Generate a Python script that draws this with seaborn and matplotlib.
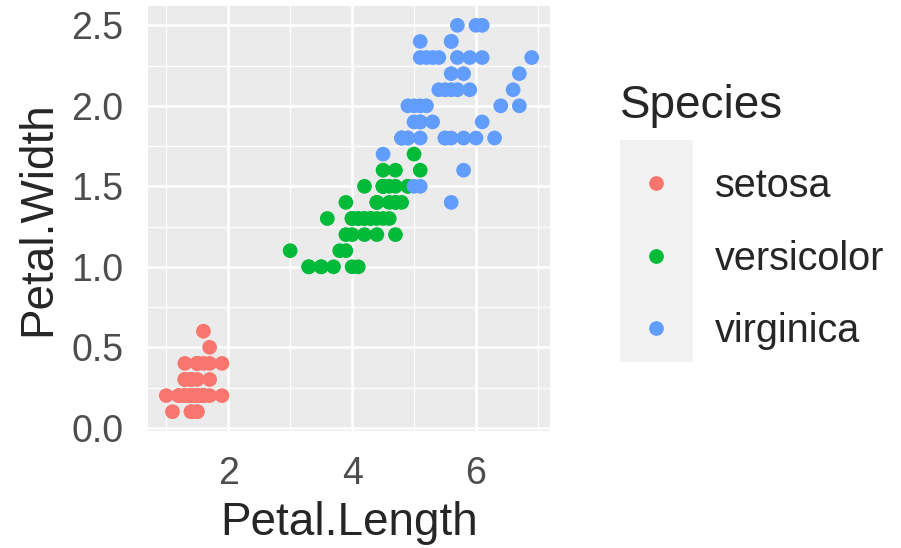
import matplotlib
matplotlib.use("Agg")
from matplotlib import pyplot as plt
from matplotlib.patches import Rectangle
from matplotlib.ticker import MultipleLocator, FormatStrFormatter
import pandas as pd
import seaborn as sns

# iris petal measurements, one list per species
species_names = ["setosa", "versicolor", "virginica"]

setosa_length = [1.4, 1.4, 1.3, 1.5, 1.4, 1.7, 1.4, 1.5, 1.4, 1.5, 1.5, 1.6, 1.4, 1.1, 1.2, 1.5, 1.3,
                 1.4, 1.7, 1.5, 1.7, 1.5, 1.0, 1.7, 1.9, 1.6, 1.6, 1.5, 1.4, 1.6, 1.6, 1.5, 1.5, 1.4,
                 1.5, 1.2, 1.3, 1.4, 1.3, 1.5, 1.3, 1.3, 1.3, 1.6, 1.9, 1.4, 1.6, 1.4, 1.5, 1.4]
setosa_width = [0.2, 0.2, 0.2, 0.2, 0.2, 0.4, 0.3, 0.2, 0.2, 0.1, 0.2, 0.2, 0.1, 0.1, 0.2, 0.4, 0.4,
                0.3, 0.3, 0.3, 0.2, 0.4, 0.2, 0.5, 0.2, 0.2, 0.4, 0.2, 0.2, 0.2, 0.2, 0.4, 0.1, 0.2,
                0.2, 0.2, 0.2, 0.1, 0.2, 0.2, 0.3, 0.3, 0.2, 0.6, 0.4, 0.3, 0.2, 0.2, 0.2, 0.2]

versicolor_length = [4.7, 4.5, 4.9, 4.0, 4.6, 4.5, 4.7, 3.3, 4.6, 3.9, 3.5, 4.2, 4.0, 4.7, 3.6, 4.4, 4.5,
                     4.1, 4.5, 3.9, 4.8, 4.0, 4.9, 4.7, 4.3, 4.4, 4.8, 5.0, 4.5, 3.5, 3.8, 3.7, 3.9, 5.1,
                     4.5, 4.5, 4.7, 4.4, 4.1, 4.0, 4.4, 4.6, 4.0, 3.3, 4.2, 4.2, 4.2, 4.3, 3.0, 4.1]
versicolor_width = [1.4, 1.5, 1.5, 1.3, 1.5, 1.3, 1.6, 1.0, 1.3, 1.4, 1.0, 1.5, 1.0, 1.4, 1.3, 1.4, 1.5,
                    1.0, 1.5, 1.1, 1.8, 1.3, 1.5, 1.2, 1.3, 1.4, 1.4, 1.7, 1.5, 1.0, 1.1, 1.0, 1.2, 1.6,
                    1.5, 1.6, 1.5, 1.3, 1.3, 1.3, 1.2, 1.4, 1.2, 1.0, 1.3, 1.2, 1.3, 1.3, 1.1, 1.3]

virginica_length = [6.0, 5.1, 5.9, 5.6, 5.8, 6.6, 4.5, 6.3, 5.8, 6.1, 5.1, 5.3, 5.5, 5.0, 5.1, 5.3, 5.5,
                    6.7, 6.9, 5.0, 5.7, 4.9, 6.7, 4.9, 5.7, 6.0, 4.8, 4.9, 5.6, 5.8, 6.1, 6.4, 5.6, 5.1,
                    5.6, 6.1, 5.6, 5.5, 4.8, 5.4, 5.6, 5.1, 5.1, 5.9, 5.7, 5.2, 5.0, 5.2, 5.4, 5.1]
virginica_width = [2.5, 1.9, 2.1, 1.8, 2.2, 2.1, 1.7, 1.8, 1.8, 2.5, 2.0, 1.9, 2.1, 2.0, 2.4, 2.3, 1.8,
                   2.2, 2.3, 1.5, 2.3, 2.0, 2.0, 1.8, 2.1, 1.8, 1.8, 1.8, 2.1, 1.6, 1.9, 2.0, 2.2, 1.5,
                   1.4, 2.3, 2.4, 1.8, 1.8, 2.1, 2.4, 2.3, 1.9, 2.3, 2.5, 2.3, 1.9, 2.0, 2.3, 1.8]

colors = ["#F8766D", "#00BA38", "#619CFF"]

df = pd.DataFrame({
    "Petal.Length": setosa_length + versicolor_length + virginica_length,
    "Petal.Width": setosa_width + versicolor_width + virginica_width,
    "Species": ["setosa"] * len(setosa_length) + ["versicolor"] * len(versicolor_length)
               + ["virginica"] * len(virginica_length),
})

sns.set_style("darkgrid", {"axes.facecolor": "#EBEBEB", "grid.color": "white"})
plt.rcParams['font.family'] = ['Liberation Sans', 'DejaVu Sans']

fig = plt.figure(figsize=(9.01, 5.48), dpi=100)
ax = fig.add_axes([148/901, 1 - 431/548, 402/901, 425/548])

sns.scatterplot(data=df, x="Petal.Length", y="Petal.Width", hue="Species",
                hue_order=species_names, palette=colors, s=112, linewidth=0, alpha=1, ax=ax)

# ggplot style 5% expansion around data range
ax.set_xlim(0.705, 7.195)
ax.set_ylim(-0.02, 2.62)
ax.xaxis.set_major_locator(MultipleLocator(2))
ax.xaxis.set_minor_locator(MultipleLocator(1))
ax.yaxis.set_major_locator(MultipleLocator(0.5))
ax.yaxis.set_minor_locator(MultipleLocator(0.25))
ax.yaxis.set_major_formatter(FormatStrFormatter('%.1f'))
ax.grid(which="major", color="white", linewidth=1.8)
ax.grid(which="minor", color="white", linewidth=0.9)
ax.set_axisbelow(True)
for sp in ax.spines.values():
    sp.set_visible(False)

ax.tick_params(which="major", length=9.5, width=1.4, color="#333333",
               labelsize=27, labelcolor="#4D4D4D", pad=8.3)
ax.tick_params(which="minor", length=0)
ax.set_xlabel("Petal.Length", fontsize=33, labelpad=6.5)
ax.set_ylabel("Petal.Width", fontsize=33, labelpad=8)

# legend with grey key column
handles, labels = ax.get_legend_handles_labels()
for h in handles:
    h.set_markersize(10.6)
    h.set_markeredgewidth(0)
leg = ax.legend(handles, labels, title="Species", loc="upper left",
                bbox_to_anchor=(620/901, 1 - 84/548), bbox_transform=fig.transFigure,
                frameon=False, fontsize=28.5, title_fontsize=33, borderpad=0, borderaxespad=0,
                handlelength=1.84, handletextpad=0.55, labelspacing=0.87, alignment="left")
leg._legend_box.sep = 0.87 * 28.5 + 3.5
leg.set_zorder(5)
fig.patches.append(Rectangle((620/901, 1 - 362/548), 73/901, 222/548,
                             transform=fig.transFigure, facecolor="#F2F2F2",
                             edgecolor="none", zorder=-1))

plt.savefig("out.png", dpi=100)
